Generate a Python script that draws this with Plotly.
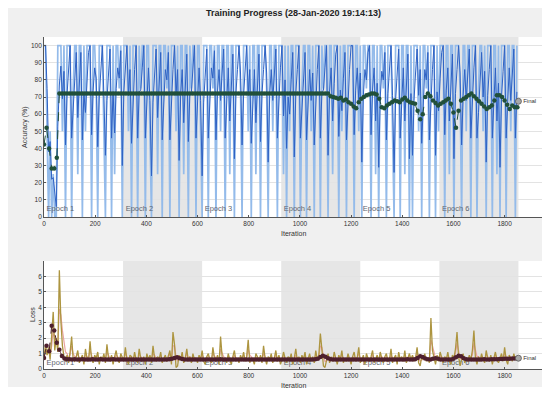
import plotly.graph_objects as go

# ---------------- data ----------------
title_text = "Training Progress (28-Jan-2020 19:14:13)"
epoch_starts = [0, 309, 618, 927, 1236, 1545]
epoch_end = 1854
epoch_names = ["Epoch 1", "Epoch 2", "Epoch 3", "Epoch 4", "Epoch 5", "Epoch 6"]
train_step = 6
val_step = 10

acc_raw = [
    100,100,50,0,50,0,25,0,0,100,100,100,50,100,0,100,100,100,0,75,
    100,100,25,100,100,0,100,50,100,100,100,0,100,100,75,0,100,100,100,50,
    0,100,100,100,0,100,25,100,100,75,100,0,100,100,100,50,100,0,100,100,
    100,0,100,75,100,100,0,100,100,50,0,100,100,100,25,100,100,0,100,100,
    75,100,0,100,100,100,50,100,0,100,100,25,100,100,0,100,75,100,100,0,
    100,100,50,0,100,100,100,0,100,100,75,100,0,100,100,50,100,100,0,100,
    100,25,100,100,0,100,100,100,75,0,100,100,100,50,100,0,100,100,25,100,
    100,0,100,100,100,75,0,100,100,50,100,100,0,100,100,100,25,100,0,100,
    50,100,100,0,100,100,100,0,75,100,100,0,100,100,50,100,0,100,100,100,
    0,100,75,100,100,0,100,100,25,100,100,100,0,100,50,100,100,0,100,100,
    100,100,0,100,100,50,100,0,100,100,75,100,100,0,100,100,25,100,0,100,
    100,75,100,0,100,100,100,50,0,100,100,100,0,100,100,25,100,100,0,100,
    0,100,100,100,50,100,0,100,100,75,100,0,100,100,100,0,100,50,100,100,
    100,0,100,100,25,100,100,0,100,100,100,75,0,100,100,50,100,100,0,100,
    100,100,0,75,100,100,50,100,0,100,100,100,0,100,100,25,100,0,100,100,
    100,0,100,100,50,100,100,0,100,
]

acc_smooth = [
    100,100,75,38,44,22,23,12,6,53,77,88,69,85,42,71,86,100,46,61,
    81,96,58,79,96,45,72,61,81,96,100,48,74,87,81,41,70,85,100,71,
    36,68,84,98,46,73,49,75,87,81,97,30,73,86,100,71,86,43,71,86,
    100,46,73,74,87,100,46,73,87,68,24,67,84,98,58,79,96,45,72,86,
    80,96,45,72,86,100,71,86,33,71,86,55,78,95,44,72,73,87,100,46,
    73,87,68,24,67,84,98,46,73,87,81,97,45,73,86,68,84,98,46,73,
    87,56,78,95,34,72,86,100,84,42,71,86,100,71,86,43,71,86,55,78,
    95,44,72,86,100,84,32,71,86,68,84,98,46,73,87,100,59,80,40,70,
    60,80,96,35,72,86,100,46,61,80,96,45,72,86,68,84,42,71,86,100,
    46,73,74,87,100,36,73,87,56,78,95,100,47,74,62,81,96,45,72,86,
    100,100,48,74,87,68,84,32,71,86,80,96,100,48,74,87,56,78,29,70,
    85,80,96,45,72,86,100,71,26,68,84,98,46,73,87,56,78,95,34,72,
    36,68,84,98,71,86,43,71,86,80,96,45,72,86,100,36,73,62,81,96,
    100,48,74,87,56,78,95,34,72,86,100,84,42,71,86,68,84,98,46,73,
    87,100,46,61,80,96,70,85,32,71,86,100,46,73,87,56,78,29,70,85,
    100,46,73,87,68,84,98,46,73,
]

val_acc = [
    42.3,52.0,40.0,28.3,28.3,34.5,72.0,72.0,72.0,72.0,
    72.0,72.0,72.0,72.0,72.0,72.0,72.0,72.0,72.0,72.0,
    72.0,72.0,72.0,72.0,72.0,72.0,72.0,72.0,72.0,72.0,
    72.0,72.0,72.0,72.0,72.0,72.0,72.0,72.0,72.0,72.0,
    72.0,72.0,72.0,72.0,72.0,72.0,72.0,72.0,72.0,72.0,
    72.0,72.0,72.0,72.0,72.0,72.0,72.0,72.0,72.0,72.0,
    72.0,72.0,72.0,72.0,72.0,72.0,72.0,72.0,72.0,72.0,
    72.0,72.0,72.0,72.0,72.0,72.0,72.0,72.0,72.0,72.0,
    72.0,72.0,72.0,72.0,72.0,72.0,72.0,72.0,72.0,72.0,
    72.0,72.0,72.0,72.0,72.0,72.0,72.0,72.0,72.0,72.0,
    72.0,72.0,72.0,72.0,72.0,72.0,72.0,72.0,72.0,72.0,
    72.0,72.0,70.5,70.0,69.5,69.0,69.5,68.0,68.5,67.0,
    66.0,64.5,63.5,67.0,69.0,70.0,71.0,71.5,72.0,72.0,
    71.5,69.0,64.0,63.5,65.0,66.0,67.0,68.0,67.5,67.0,
    68.5,69.5,68.0,67.0,66.5,66.0,62.0,57.0,60.0,70.0,
    72.0,70.5,68.0,66.5,65.0,66.0,67.0,68.0,69.0,66.0,
    61.0,52.0,62.0,68.0,69.0,70.0,71.0,72.0,70.5,69.0,
    67.5,66.0,64.5,63.0,64.0,65.0,68.0,71.0,71.0,70.0,
    68.0,65.5,63.0,65.0,64.0,64.0,
]

loss_raw = [
    0.7,1.6,0.9,1.4,0.6,2.2,3.7,1.2,2.0,1.1,6.4,3.1,1.5,0.8,0.5,0.9,0.4,1.1,2.1,0.6,
    0.5,0.8,1.2,0.4,0.6,0.9,0.3,1.3,0.7,0.5,1.8,0.6,0.4,0.9,0.7,1.1,0.3,0.8,0.6,1.0,
    0.4,1.6,0.7,0.5,0.9,0.3,0.8,1.2,0.6,0.4,1.0,0.7,0.5,1.4,0.6,0.3,0.9,0.8,0.5,1.1,
    0.6,0.4,1.3,0.7,0.5,0.8,0.3,1.0,0.6,0.9,0.4,1.5,0.7,0.5,0.8,0.6,1.1,0.4,0.7,0.9,
    0.5,0.8,1.2,0.3,2.4,1.6,0.1,0.2,0.9,0.6,1.1,0.4,0.7,1.3,0.5,0.8,0.4,1.0,0.6,0.7,
    0.4,0.9,0.6,1.2,0.5,0.3,0.8,1.0,0.6,0.4,1.4,0.7,0.5,0.9,0.3,2.1,0.8,0.5,0.7,0.4,
    1.0,0.6,0.3,0.8,1.2,0.5,0.7,0.4,0.9,0.6,1.1,0.5,0.8,1.9,0.4,0.7,0.6,0.3,1.0,0.8,
    0.5,0.9,0.4,1.5,0.7,0.3,0.8,0.6,1.0,0.4,0.7,1.2,0.5,0.9,0.3,0.6,1.1,0.7,0.4,0.8,
    0.6,1.0,0.3,0.7,1.3,0.5,0.8,0.4,0.9,0.6,1.1,0.3,0.7,1.0,0.5,0.8,0.4,1.2,0.6,0.9,
    2.3,1.4,0.2,0.1,0.6,1.0,0.4,0.8,0.5,1.1,0.7,0.3,0.9,0.6,1.2,0.4,0.7,0.5,1.0,0.6,
    0.3,0.8,1.1,0.5,0.7,1.4,0.4,0.6,0.9,0.3,1.0,0.7,0.5,0.8,1.2,0.4,0.6,0.9,0.5,1.1,
    0.7,0.4,0.8,1.0,0.5,0.6,1.3,0.4,0.7,0.9,0.3,1.1,0.6,0.8,0.5,1.2,0.4,0.7,1.0,0.6,
    0.9,0.5,0.7,1.4,0.4,0.2,0.8,0.6,1.0,0.5,0.7,0.4,3.3,1.2,0.6,0.3,0.9,0.5,1.1,0.7,
    0.4,0.8,0.6,1.1,0.5,0.3,0.9,0.7,1.3,2.4,0.8,0.2,0.6,1.0,0.4,0.7,0.5,0.9,0.6,1.2,
    2.5,0.7,0.3,0.8,0.5,1.0,0.6,0.4,1.2,0.7,0.5,0.9,0.3,0.8,1.1,0.6,0.4,0.7,1.0,0.5,
    1.4,0.6,0.3,0.9,0.7,0.5,1.0,0.6,0.8,
]

loss_smooth = [
    0.7,1.1,1.0,1.2,0.9,1.5,2.5,1.9,1.9,1.5,3.9,3.5,2.5,1.7,1.1,1.0,0.7,0.9,1.5,1.0,
    0.8,0.8,1.0,0.7,0.6,0.8,0.6,0.9,0.8,0.7,1.2,0.9,0.6,0.8,0.7,0.9,0.6,0.7,0.7,0.8,
    0.6,1.1,0.9,0.7,0.8,0.6,0.7,0.9,0.8,0.6,0.8,0.7,0.6,1.0,0.8,0.6,0.7,0.8,0.6,0.8,
    0.7,0.6,0.9,0.8,0.7,0.7,0.5,0.8,0.7,0.8,0.6,1.0,0.9,0.7,0.7,0.7,0.9,0.6,0.7,0.8,
    0.6,0.7,1.0,0.6,1.5,1.5,0.8,0.5,0.7,0.6,0.9,0.6,0.7,1.0,0.7,0.8,0.6,0.8,0.7,0.7,
    0.6,0.7,0.7,0.9,0.7,0.5,0.7,0.8,0.7,0.6,1.0,0.8,0.7,0.8,0.5,1.3,1.0,0.8,0.7,0.6,
    0.8,0.7,0.5,0.7,0.9,0.7,0.7,0.6,0.7,0.7,0.9,0.7,0.7,1.3,0.9,0.8,0.7,0.5,0.7,0.8,
    0.6,0.8,0.6,1.0,0.8,0.6,0.7,0.7,0.8,0.6,0.7,0.9,0.7,0.8,0.6,0.6,0.8,0.7,0.6,0.7,
    0.6,0.8,0.6,0.6,0.9,0.7,0.7,0.6,0.7,0.7,0.9,0.6,0.6,0.8,0.7,0.7,0.6,0.9,0.7,0.8,
    1.5,1.4,0.8,0.5,0.5,0.7,0.6,0.7,0.6,0.8,0.7,0.5,0.7,0.7,0.9,0.7,0.7,0.6,0.8,0.7,
    0.5,0.6,0.8,0.7,0.7,1.0,0.7,0.6,0.7,0.5,0.7,0.7,0.6,0.7,0.9,0.7,0.6,0.7,0.6,0.8,
    0.8,0.6,0.7,0.8,0.7,0.6,0.9,0.7,0.7,0.8,0.6,0.8,0.7,0.7,0.6,0.9,0.7,0.7,0.8,0.7,
    0.8,0.7,0.7,1.0,0.7,0.5,0.6,0.6,0.8,0.7,0.7,0.6,1.9,1.5,1.0,0.7,0.8,0.6,0.8,0.8,
    0.6,0.7,0.6,0.8,0.7,0.5,0.7,0.7,1.0,1.7,1.2,0.7,0.6,0.8,0.6,0.7,0.6,0.7,0.7,0.9,
    1.7,1.2,0.8,0.8,0.6,0.8,0.7,0.6,0.9,0.8,0.6,0.7,0.5,0.7,0.9,0.7,0.6,0.6,0.8,0.7,
    1.0,0.8,0.6,0.7,0.7,0.6,0.8,0.7,0.7,
]

val_loss = [
    0.72,1.50,1.15,2.80,2.50,1.70,1.25,0.85,0.68,0.64,
    0.63,0.62,0.63,0.62,0.62,0.63,0.62,0.62,0.62,0.63,
    0.62,0.62,0.63,0.62,0.62,0.62,0.62,0.63,0.62,0.62,
    0.62,0.61,0.62,0.62,0.62,0.61,0.62,0.62,0.61,0.62,
    0.62,0.62,0.61,0.62,0.62,0.62,0.61,0.62,0.62,0.63,
    0.66,0.72,0.76,0.70,0.65,0.62,0.62,0.61,0.62,0.62,
    0.62,0.61,0.62,0.62,0.62,0.61,0.62,0.62,0.62,0.63,
    0.62,0.62,0.61,0.62,0.62,0.62,0.61,0.62,0.62,0.62,
    0.62,0.62,0.62,0.61,0.62,0.62,0.62,0.61,0.62,0.62,
    0.62,0.61,0.62,0.62,0.62,0.62,0.61,0.62,0.62,0.62,
    0.62,0.62,0.61,0.62,0.62,0.62,0.63,0.66,0.78,0.86,
    0.80,0.70,0.64,0.62,0.61,0.62,0.62,0.61,0.62,0.62,
    0.62,0.61,0.62,0.62,0.61,0.62,0.62,0.62,0.61,0.62,
    0.62,0.62,0.62,0.61,0.62,0.62,0.62,0.61,0.62,0.62,
    0.62,0.62,0.63,0.62,0.62,0.64,0.72,0.82,0.78,0.68,
    0.63,0.62,0.66,0.70,0.66,0.62,0.62,0.61,0.62,0.62,
    0.66,0.76,0.86,0.82,0.70,0.64,0.62,0.62,0.61,0.62,
    0.62,0.62,0.63,0.62,0.62,0.63,0.64,0.64,0.65,0.65,
    0.66,0.66,0.67,0.68,0.68,0.69,
]

final_acc = 67.5
final_loss = 0.70

acc_ticks = [0, 10, 20, 30, 40, 50, 60, 70, 80, 90, 100]
loss_ticks = [0, 1, 2, 3, 4, 5, 6]
iter_ticks = [0, 200, 400, 600, 800, 1000, 1200, 1400, 1600, 1800]

# ---------------- derived positions ----------------
n_tr = min(len(acc_raw), len(acc_smooth))
tr_x = [train_step * i for i in range(n_tr)]
n_lr = min(len(loss_raw), len(loss_smooth))
lr_x = [train_step * i for i in range(n_lr)]
va_x = [val_step * i for i in range(len(val_acc))]
vl_x = [val_step * i for i in range(len(val_loss))]

FONT = "Arial, 'Liberation Sans', Helvetica, sans-serif"
C_RAW_ACC = "#94bbea"
C_SM_ACC = "#2f62c4"
C_VAL_ACC = "#21503a"
C_RAW_LOSS = "#ad9540"
C_SM_LOSS = "#e9a3a0"
C_VAL_LOSS = "#4e1f2d"

fig = go.Figure()

# ---- accuracy panel ----
fig.add_trace(go.Scatter(x=tr_x, y=acc_raw[:n_tr], mode="lines",
                         line=dict(color=C_RAW_ACC, width=1.7), xaxis="x", yaxis="y"))
fig.add_trace(go.Scatter(x=tr_x, y=acc_smooth[:n_tr], mode="lines",
                         line=dict(color=C_SM_ACC, width=1.0), xaxis="x", yaxis="y"))
fig.add_trace(go.Scatter(x=[s + 10 for s in epoch_starts], y=[4.5] * len(epoch_starts),
                         mode="text", text=epoch_names, textposition="middle right",
                         textfont=dict(size=7.5, color="#5f6670", family=FONT),
                         xaxis="x", yaxis="y"))
fig.add_trace(go.Scatter(x=va_x, y=val_acc, mode="lines+markers",
                         line=dict(color=C_VAL_ACC, width=1, dash="dash"),
                         marker=dict(color=C_VAL_ACC, size=4.5),
                         xaxis="x", yaxis="y"))
fig.add_trace(go.Scatter(x=[epoch_end], y=[final_acc], mode="markers+text",
                         text=["Final"], textposition="middle right",
                         textfont=dict(size=6, color="#333333", family=FONT),
                         marker=dict(color="#a8a8a8", size=6, line=dict(color="#555555", width=0.8)),
                         xaxis="x", yaxis="y"))

# ---- loss panel ----
fig.add_trace(go.Scatter(x=[s + 10 for s in epoch_starts], y=[0.4] * len(epoch_starts),
                         mode="text", text=epoch_names, textposition="middle right",
                         textfont=dict(size=7.5, color="#5f6670", family=FONT),
                         xaxis="x2", yaxis="y2"))
fig.add_trace(go.Scatter(x=lr_x, y=loss_smooth[:n_lr], mode="lines",
                         line=dict(color=C_SM_LOSS, width=1.2), xaxis="x2", yaxis="y2"))
fig.add_trace(go.Scatter(x=lr_x, y=loss_raw[:n_lr], mode="lines",
                         line=dict(color=C_RAW_LOSS, width=1.3), xaxis="x2", yaxis="y2"))
fig.add_trace(go.Scatter(x=vl_x, y=val_loss, mode="lines+markers",
                         line=dict(color=C_VAL_LOSS, width=1, dash="dash"),
                         marker=dict(color=C_VAL_LOSS, size=4.5),
                         xaxis="x2", yaxis="y2"))
fig.add_trace(go.Scatter(x=[epoch_end], y=[final_loss], mode="markers+text",
                         text=["Final"], textposition="middle right",
                         textfont=dict(size=6, color="#333333", family=FONT),
                         marker=dict(color="#a8a8a8", size=6, line=dict(color="#555555", width=0.8)),
                         xaxis="x2", yaxis="y2"))

# ---- geometry (page has an 8px body margin; coordinates below are in screenshot pixels) ----
OFF = 8
W, H = 550 - OFF, 396 - OFF
ML = 44 - OFF
MR = W - (543 - OFF)
MT = 37 - OFF
MB = H - (369 - OFF)
PW, PH = W - ML - MR, H - MT - MB


def px(xs):
    return (xs - OFF - ML) / PW


def py(ys):
    return (H - MB - (ys - OFF)) / PH


shapes = []
for k, s in enumerate(epoch_starts):
    if k % 2 == 1:
        e = epoch_starts[k + 1] if k + 1 < len(epoch_starts) else epoch_end
        for xr, yr in (("x", "y domain"), ("x2", "y2 domain")):
            shapes.append(dict(type="rect", xref=xr, yref=yr, x0=s, x1=e, y0=0, y1=1,
                               fillcolor="#e6e6e6", line=dict(width=0), layer="below"))

for (x0, x1, y0, y1) in ((543, 560, 0, 410), (0, 560, 387, 410)):
    shapes.append(dict(type="rect", xref="paper", yref="paper",
                       x0=px(x0), x1=px(x1), y0=py(y1), y1=py(y0),
                       fillcolor="white", line=dict(width=0), layer="above"))

annotations = [
    dict(text="<b>" + title_text + "</b>", x=0.5, y=py(13), xref="paper", yref="paper",
         showarrow=False, font=dict(size=9, color="#222222", family=FONT), xanchor="center", yanchor="middle"),
    dict(text="Iteration", x=0.5, y=py(233), xref="paper", yref="paper", showarrow=False,
         font=dict(size=7, color="#333333", family=FONT), xanchor="center", yanchor="middle"),
    dict(text="Iteration", x=0.5, y=py(385), xref="paper", yref="paper", showarrow=False,
         font=dict(size=7, color="#333333", family=FONT), xanchor="center", yanchor="middle"),
    dict(text="Accuracy (%)", x=px(25), y=py(127), xref="paper", yref="paper", showarrow=False,
         textangle=-90, font=dict(size=7, color="#333333", family=FONT), xanchor="center", yanchor="middle"),
    dict(text="Loss", x=px(32), y=py(315), xref="paper", yref="paper", showarrow=False,
         textangle=-90, font=dict(size=7, color="#333333", family=FONT), xanchor="center", yanchor="middle"),
]

axis_common = dict(showline=True, linecolor="#555555", linewidth=0.8, ticks="inside", ticklen=2,
                   tickcolor="#555555", tickfont=dict(size=6.5, color="#333333", family=FONT),
                   zeroline=False)

fig.update_layout(
    width=W, height=H,
    margin=dict(l=ML, r=MR, t=MT, b=MB, pad=0),
    paper_bgcolor="#f0f0f0", plot_bgcolor="white",
    showlegend=False,
    font=dict(family=FONT),
    shapes=shapes,
    annotations=annotations,
    xaxis=dict(domain=[0, 1], range=[0, 1950], tickvals=iter_ticks, showgrid=False,
               anchor="y", **axis_common),
    yaxis=dict(domain=[py(217), 1], range=[0, 105], tickvals=acc_ticks, showgrid=True,
               gridcolor="#e3e3e3", gridwidth=0.6, anchor="x", **axis_common),
    xaxis2=dict(domain=[0, 1], range=[0, 1950], tickvals=iter_ticks, showgrid=False,
                anchor="y2", **axis_common),
    yaxis2=dict(domain=[0, py(261)], range=[0, 7], tickvals=loss_ticks, showgrid=True,
                gridcolor="#e3e3e3", gridwidth=0.6, anchor="x2", **axis_common),
)

fig.write_html("out.html")
